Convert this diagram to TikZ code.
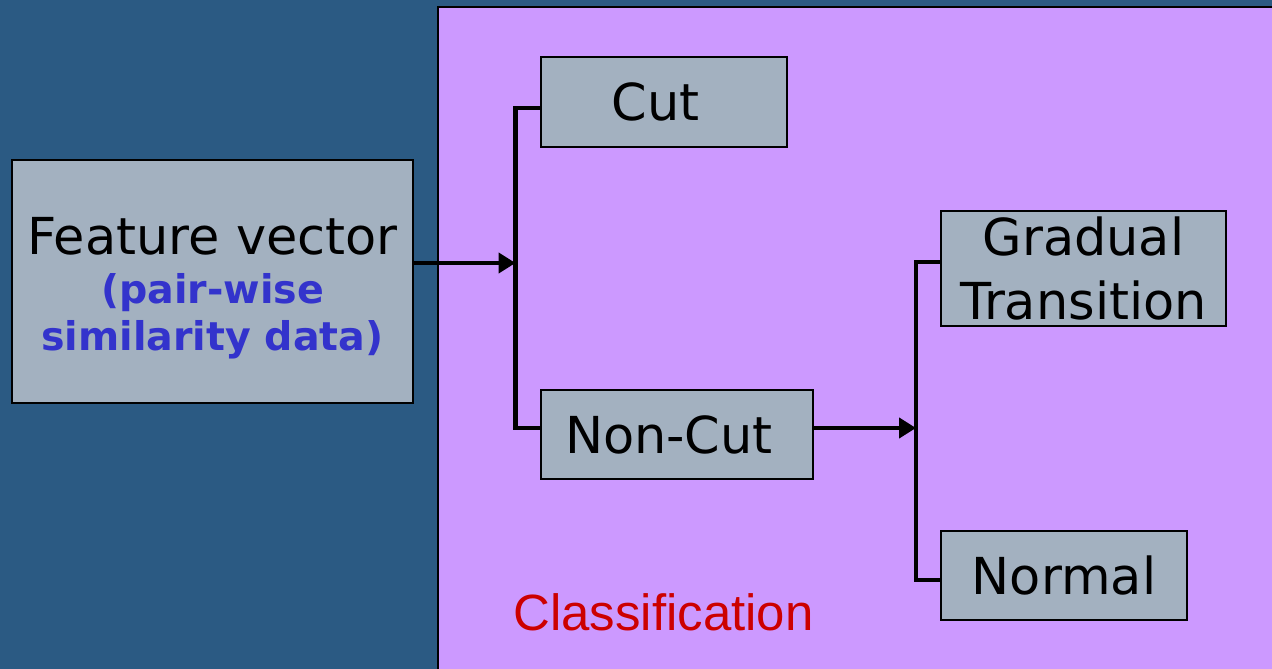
\documentclass[tikz,border=0pt]{standalone}
\usepackage{fontspec}
\setmainfont{DejaVu Sans}
\newfontfamily\arialfont{Liberation Sans}
\usetikzlibrary{positioning,arrows.meta}

\definecolor{slide}{RGB}{43,90,131}
\definecolor{panel}{RGB}{204,153,255}
\definecolor{boxfill}{RGB}{163,177,192}
\definecolor{note}{RGB}{51,51,204}
\definecolor{tag}{RGB}{204,0,0}

\newcommand{\notefont}{\color{note}\fontsize{22.5}{26}\selectfont\bfseries}

\tikzset{
	box/.style={draw=black, line width=0.9pt, fill=boxfill, inner sep=0pt,
		font=\fontsize{29}{34}\selectfont, align=center},
	conn/.style={line width=2.6pt},
	tip/.style={-{Triangle[length=0.34cm, width=0.4cm]}}
}

\begin{document}
\begin{tikzpicture}[x=0.02cm, y=-0.02cm]
			\useasboundingbox (0, 0) rectangle (1272, 669);
			\fill[slide] (0, 0) rectangle (1272, 669);
			\draw[fill=panel, line width=1.2pt] (438, 7) rectangle (1290, 690);
			
			\node[box, minimum width=8.02cm, minimum height=4.86cm] (feat) at (212.5, 281.5)
				{\rule{0pt}{28.5pt}Feature vector\\[-6.2pt]{\notefont (pair-wise}\\[-7.4pt]{\notefont similarity data)}};
			\node[box, minimum width=4.92cm, minimum height=1.80cm] (cut) at (664, 102) {Cut\ };
			\node[box, minimum width=5.44cm, minimum height=1.78cm] (noncut) at (677, 434.5) {Non-Cut\ };
			\node[box, minimum width=5.70cm, minimum height=2.30cm] (grad) at (1083.5, 268.5) {Gradual\\[2.4pt]Transition};
			\node[box, minimum width=4.92cm, minimum height=1.78cm] (normal) at (1064, 575.5) {Normal};
			\node[tag, font=\arialfont\fontsize{29}{34}\selectfont] (cls) at (663.5, 612) {Classification};
			
			% first split: cut / non-cut
			\coordinate (split1) at (515.5, 263);
			\draw[conn, tip] (feat.east |- split1) -- (split1);
			\draw[conn] ([yshift=-0.12cm]cut.west) -| (split1) |- ([yshift=0.13cm]noncut.west);
			
			% second split: gradual / normal
			\coordinate (split2) at (916, 428);
			\draw[conn, tip] (noncut.east |- split2) -- (split2);
			\draw[conn] ([yshift=0.13cm]grad.west) -| (split2) |- ([yshift=-0.09cm]normal.west);
\end{tikzpicture}
\end{document}
